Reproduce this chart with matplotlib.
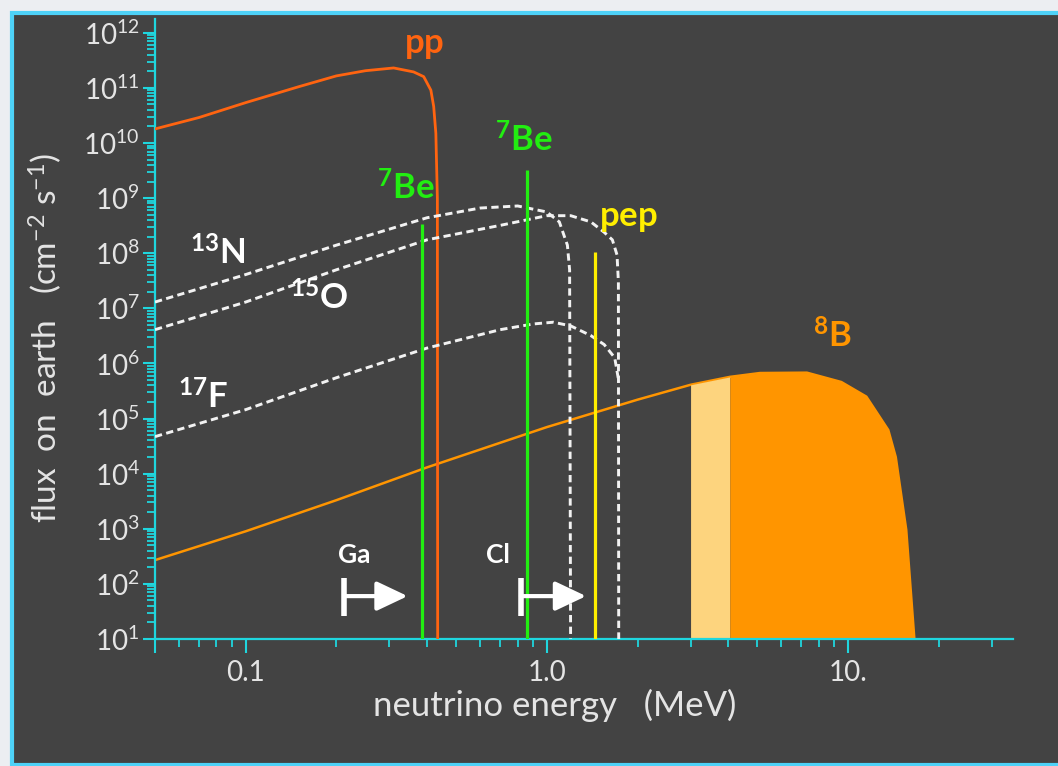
import matplotlib.pyplot as plt
from matplotlib.patches import Rectangle
from matplotlib.ticker import LogLocator, NullFormatter

plt.rcParams['font.family'] = ['Lato', 'DejaVu Sans']
plt.rcParams['mathtext.fontset'] = 'custom'
plt.rcParams['mathtext.rm'] = 'Lato'
plt.rcParams['mathtext.it'] = 'Lato:italic'
plt.rcParams['mathtext.bf'] = 'Lato:bold'

# pp continuum (MeV, cm^-2 s^-1)
pp_E = [0.05, 0.07, 0.1, 0.15, 0.2, 0.25, 0.31, 0.361, 0.39, 0.412, 0.421, 0.428, 0.433, 0.434]
pp_flux = [1.8e10, 2.9e10, 5.4e10, 1.05e11, 1.65e11, 2.05e11, 2.3e11, 1.95e11, 1.6e11, 9.1e10, 4.6e10, 1.5e10, 1e9, 10]

# CNO continua
n13_E = [0.05, 0.1, 0.2, 0.4, 0.6, 0.8, 1.0, 1.1, 1.17, 1.19, 1.199]
n13_flux = [1.3e7, 4.1e7, 1.4e8, 4.4e8, 6.6e8, 7.2e8, 5.6e8, 3.7e8, 1.4e8, 5e7, 10]
o15_E = [0.05, 0.1, 0.2, 0.4, 0.7, 1.0, 1.2, 1.4, 1.55, 1.65, 1.71, 1.728, 1.732]
o15_flux = [4.1e6, 1.3e7, 5e7, 1.75e8, 3.2e8, 4.8e8, 4.8e8, 3.7e8, 2.4e8, 1.75e8, 9.3e7, 3e7, 10]
f17_E = [0.05, 0.1, 0.2, 0.4, 0.7, 0.9, 1.05, 1.2, 1.4, 1.55, 1.68, 1.73]
f17_flux = [4.7e4, 1.45e5, 5.5e5, 1.9e6, 4.1e6, 5.2e6, 5.6e6, 4.8e6, 3.2e6, 2.2e6, 1.27e6, 5e5]

# 8B continuum
b8_E = [0.05, 0.1, 0.2, 0.4, 1.0, 2.0, 3.0, 4.05, 5.1, 7.3, 9.5, 11.5, 13.6, 14.4, 15.6, 16.6]
b8_flux = [2.7e2, 9.0e2, 3.3e3, 1.3e4, 7.0e4, 2.2e5, 4.1e5, 5.7e5, 6.7e5, 6.8e5, 4.6e5, 2.5e5, 6.2e4, 2e4, 9.6e2, 10]
b8_light = (3.0, 4.05)

# monoenergetic lines
be7_E = [0.384, 0.862]
be7_flux = [3.4e8, 3.2e9]
pep_E = [1.442]
pep_flux = [1.05e8]

# detector thresholds: bar energy, arrow tip energy
det_names = ['Ga', 'Cl']
det_E = [0.212, 0.82]
det_tip = [0.345, 1.35]

cyan = '#1fd6de'
txt = '#e4e4e4'

fig = plt.figure(figsize=(10.58, 7.66), dpi=100)
fig.patch.set_facecolor('#eceef2')
fig.add_artist(Rectangle((12 / 1058, 1 / 766), 1.2, 752 / 766, transform=fig.transFigure,
                         facecolor='#434343', edgecolor='#4ed2f8', linewidth=3, zorder=-1))

ax = fig.add_axes([0.1465, 0.1658, 0.811, 0.8094])
ax.set_facecolor('none')
ax.set_xscale('log')
ax.set_yscale('log')
ax.set_xlim(0.05, 35.3)
ax.set_ylim(10, 10 ** 12.25)

# 8B
ax.plot(b8_E, b8_flux, color='#ff9500', lw=1.8, zorder=2)
light = [i for i, e in enumerate(b8_E) if b8_light[0] <= e <= b8_light[1]]
dark = [i for i, e in enumerate(b8_E) if e >= b8_light[1]]
ax.fill_between([b8_E[i] for i in light], [b8_flux[i] for i in light], 10,
                color='#fdd47e', lw=0, zorder=2)
ax.fill_between([b8_E[i] for i in dark], [b8_flux[i] for i in dark], 10,
                color='#ff9500', lw=0, zorder=2)

# pp
ax.plot(pp_E, pp_flux, color='#ff6410', lw=2, zorder=3)

# CNO
for E, F in [(n13_E, n13_flux), (o15_E, o15_flux), (f17_E, f17_flux)]:
    ax.plot(E, F, color='#f2f2f2', lw=2.1, ls=(0, (2.5, 1.5)), zorder=3)

# lines
ax.vlines(be7_E, 10, be7_flux, color='#22ee11', lw=2.3, zorder=4)
ax.vlines(pep_E, 10, pep_flux, color='#ffee00', lw=2.3, zorder=4)

# thresholds
for name, e0, e1 in zip(det_names, det_E, det_tip):
    ax.vlines(e0, 26, 130, color='white', lw=4, zorder=5)
    ax.annotate('', xy=(e1, 60), xytext=(e0, 60),
                arrowprops=dict(arrowstyle='-|>,head_length=1.9,head_width=0.9',
                                color='white', lw=3, shrinkA=0, shrinkB=0), zorder=5)
ax.text(0.229, 330, 'Ga', color='white', fontsize=19, fontweight='bold', ha='center', va='center')
ax.text(0.69, 330, 'Cl', color='white', fontsize=19, fontweight='bold', ha='center', va='center')

# labels
lab = dict(fontsize=25, ha='center', va='center', zorder=6)
ax.text(0.39, 6e11, r'$\mathbf{pp}$', color='#ff6410', **lab)
ax.text(0.34, 1.5e9, r'$\mathbf{{}^{7}Be}$', color='#22ee11', **lab)
ax.text(0.84, 1.15e10, r'$\mathbf{{}^{7}Be}$', color='#22ee11', **lab)
ax.text(1.87, 4.4e8, r'$\mathbf{pep}$', color='#ffee00', **lab)
ax.text(0.0807, 1.0e8, r'$\mathbf{{}^{13}N}$', color='white', **lab)
ax.text(0.175, 1.55e7, r'$\mathbf{{}^{15}O}$', color='white', **lab)
ax.text(0.072, 2.5e5, r'$\mathbf{{}^{17}F}$', color='white', **lab)
ax.text(8.9, 3.2e6, r'$\mathbf{{}^{8}B}$', color='#ff9500', **lab)

# axes styling
for s in ['top', 'right']:
    ax.spines[s].set_visible(False)
for s in ['left', 'bottom']:
    ax.spines[s].set_color(cyan)
    ax.spines[s].set_linewidth(1.6)

ax.set_yticks([10.0 ** k for k in range(1, 13)],
              labels=[rf'$\mathregular{{10^{{{k}}}}}$' for k in range(1, 13)])
ax.yaxis.set_minor_locator(LogLocator(base=10, subs=range(2, 10), numticks=30))
ax.yaxis.set_minor_formatter(NullFormatter())
ax.set_xticks([0.05, 0.1, 1.0, 10.0], labels=['', '0.1', '1.0', '10.'])
ax.xaxis.set_minor_locator(LogLocator(base=10, subs=range(2, 10), numticks=30))
ax.xaxis.set_minor_formatter(NullFormatter())

ax.tick_params(axis='y', which='major', length=9, width=1.5, color=cyan,
               labelsize=20, labelcolor=txt, pad=2)
ax.tick_params(axis='y', which='minor', length=6, width=1.3, color=cyan)
ax.tick_params(axis='x', which='major', length=10, width=1.5, color=cyan,
               labelsize=20, labelcolor=txt, pad=5)
ax.tick_params(axis='x', which='minor', length=5.5, width=1.3, color=cyan)

fig.text(555 / 1058, 1 - 705 / 766, 'neutrino energy   (MeV)', color=txt,
         fontsize=25, ha='center', va='center')
fig.text(45 / 1058, 1 - 338 / 766, r'flux  on  earth   (cm$^{-2}$ s$^{-1}$)', color=txt,
         fontsize=24, ha='center', va='center', rotation=90)

fig.savefig('out.png', dpi=100, facecolor=fig.get_facecolor())
